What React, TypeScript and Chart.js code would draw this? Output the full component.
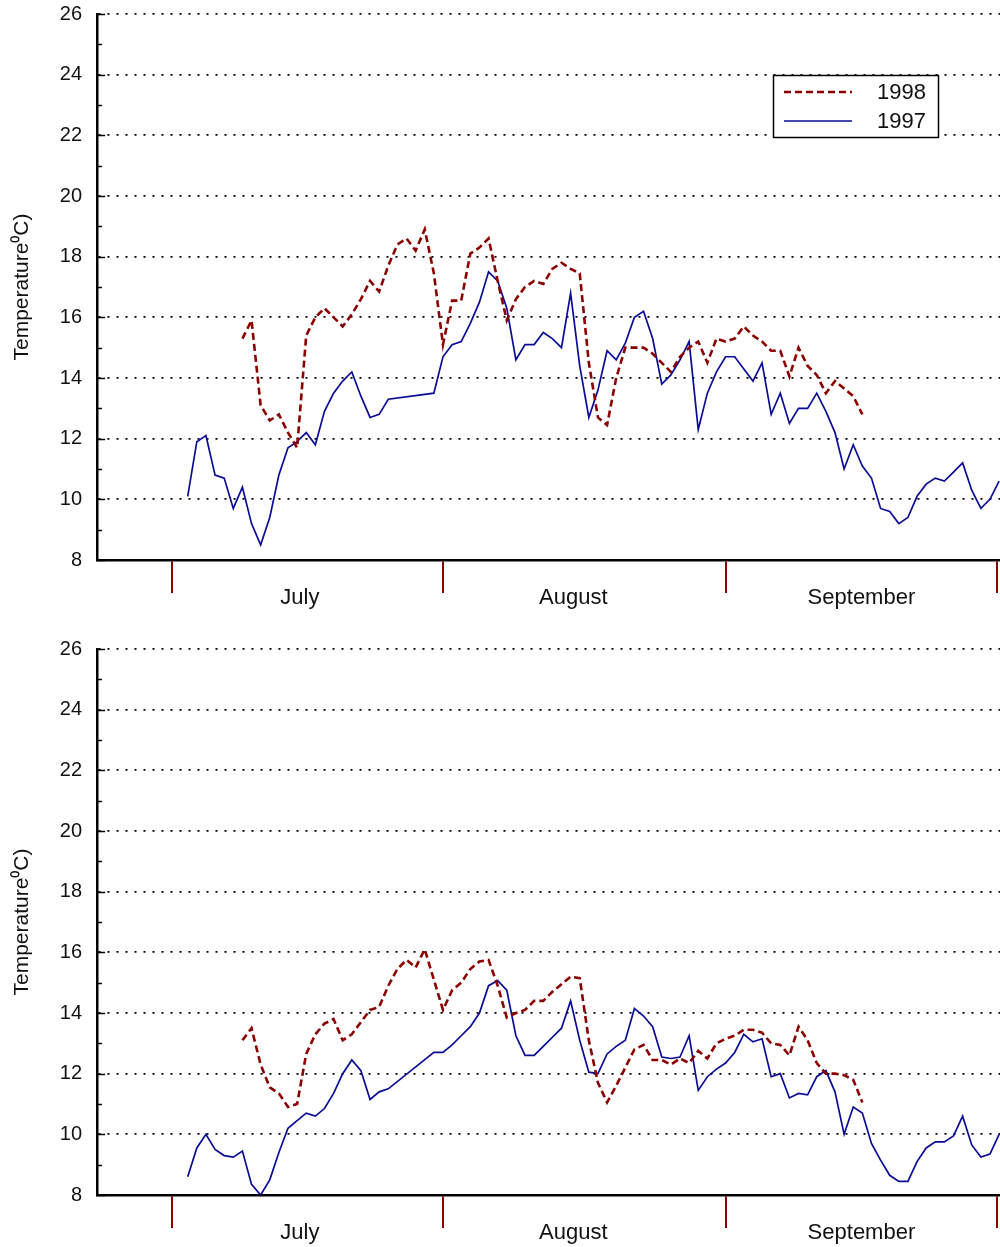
import { useEffect, useRef } from "react";
import { Chart, registerables } from "chart.js";

Chart.register(...registerables);

const FONT = "'Liberation Sans', Arial, Helvetica, sans-serif";
const RED = "#8b0000";
const BLUE = "#0b0b95";

// Day of year of the first reading in each series (1997: 4 July, 1998: 10 July)
const start1997 = 185;
const start1998 = 191;

// Upper panel, daily temperature (°C); null = no reading
const upper1997 = [
  10.1, 11.9, 12.1, 10.8, 10.7, 9.7, 10.4, 9.2, 8.5, 9.4,
  10.8, 11.7, 11.9, 12.2, 11.8, 12.9, 13.5, 13.9, 14.2, 13.4,
  12.7, 12.8, 13.3, null, null, null, null, 13.5, 14.7, 15.1,
  15.2, 15.8, 16.5, 17.5, 17.2, 16.3, 14.6, 15.1, 15.1, 15.5,
  15.3, 15.0, 16.8, 14.4, 12.7, 13.6, 14.9, 14.6, 15.15, 16.0,
  16.2, 15.3, 13.8, 14.1, 14.6, 15.2, 12.3, 13.5, 14.2, 14.7,
  14.7, 14.3, 13.9, 14.5, 12.8, 13.5, 12.5, 13.0, 13.0, 13.5,
  12.9, 12.2, 11.0, 11.8, 11.1, 10.7, 9.7, 9.6, 9.2, 9.4,
  10.1, 10.5, 10.7, 10.6, 10.9, 11.2, 10.3, 9.7, 10.0, 10.6,
];
const upper1998 = [
  15.3, 15.9, 13.1, 12.6, 12.8, 12.2, 11.7, 15.4, 16.0, 16.3,
  16.0, 15.7, 16.1, 16.6, 17.2, 16.85, 17.7, 18.4, 18.6, 18.2,
  18.9, 17.45, 15.1, 16.55, 16.55, 18.1, 18.3, 18.6, 17.2, 15.9,
  16.6, 17.0, 17.2, 17.1, 17.6, 17.8, 17.6, 17.45, 14.5, 12.7,
  12.45, 14.0, 15.0, 15.0, 15.0, 14.8, 14.5, 14.2, 14.7, 15.0,
  15.2, 14.5, 15.3, 15.2, 15.3, 15.7, 15.4, 15.2, 14.9, 14.9,
  14.05, 15.0, 14.4, 14.1, 13.5, 13.9, 13.65, 13.4, 12.8,
];

// Lower panel, daily temperature (°C); null = no reading
const lower1997 = [
  8.6, 9.55, 10.0, 9.5, 9.3, 9.25, 9.45, 8.35, 8.0, 8.5,
  9.4, 10.2, 10.45, 10.7, 10.6, 10.85, 11.35, 12.0, 12.45, 12.1,
  11.15, 11.4, 11.5, null, null, null, null, 12.7, 12.7, 12.95,
  13.25, 13.55, 14.0, 14.9, 15.07, 14.75, 13.25, 12.6, 12.6, 12.9,
  13.2, 13.5, 14.4, 13.1, 12.05, 12.0, 12.65, 12.9, 13.1, 14.15,
  13.9, 13.55, 12.55, 12.5, 12.55, 13.25, 11.45, 11.9, 12.15, 12.35,
  12.7, 13.3, 13.05, 13.15, 11.9, 12.0, 11.2, 11.35, 11.3, 11.9,
  12.1, 11.4, 10.0, 10.9, 10.7, 9.7, 9.15, 8.65, 8.45, 8.45,
  9.1, 9.55, 9.75, 9.75, 9.95, 10.6, 9.65, 9.25, 9.35, 10.0,
];
const lower1998 = [
  13.1, 13.5, 12.3, 11.55, 11.35, 10.9, 11.0, 12.65, 13.3, 13.65,
  13.8, 13.1, 13.3, 13.7, 14.1, 14.2, 14.9, 15.45, 15.75, 15.5,
  16.1, 15.1, 14.1, 14.75, 15.0, 15.45, 15.7, 15.75, 14.9, 13.85,
  14.0, 14.1, 14.4, 14.4, 14.7, 14.95, 15.2, 15.15, 13.1, 11.7,
  11.05, 11.6, 12.2, 12.8, 12.95, 12.45, 12.45, 12.3, 12.5, 12.35,
  12.75, 12.5, 13.0, 13.15, 13.25, 13.45, 13.45, 13.35, 13.0, 12.95,
  12.6, 13.55, 13.1, 12.35, 12.0, 12.0, 11.95, 11.8, 11.05,
];

// Month boundaries and month-name anchors on the day-of-year axis
const monthStarts = [183.3, 213, 244, 273.8];
const monthNames = ["July", "August", "September"];
const monthLabelDays = [197.3, 227.3, 258.9];

const X_MIN = 175.05;
const X_MAX = 274.1;
const Y_MIN = 8;
const Y_MAX = 26;
const Y_STEP = 2;
const Y_TITLE = "Temperature⁰C)";

function toPoints(start: number, values: (number | null)[]) {
  return values.map((y, i) => ({ x: start + i, y }));
}

// Inside tick marks on the left axis plus the month names under the x axis
const axisDecor = {
  id: "axisDecor",
  afterDraw(chart: any) {
    const { ctx, chartArea } = chart;
    const y = chart.scales.y;
    const x = chart.scales.x;
    ctx.save();
    ctx.strokeStyle = "#000";
    ctx.lineWidth = 1.5;
    for (let v = Y_MIN; v <= Y_MAX; v += 1) {
      const py = Math.round(y.getPixelForValue(v)) + 0.5;
      const len = v % 2 === 0 ? 8 : 5;
      ctx.beginPath();
      ctx.moveTo(chartArea.left, py);
      ctx.lineTo(chartArea.left + len, py);
      ctx.stroke();
    }
    ctx.fillStyle = "#111";
    ctx.font = `22px ${FONT}`;
    ctx.textAlign = "center";
    ctx.textBaseline = "middle";
    monthNames.forEach((name, i) => {
      ctx.fillText(name, x.getPixelForValue(monthLabelDays[i]), chartArea.bottom + 38);
    });
    ctx.restore();
  },
};

// Framed legend in the upper right of the plot
const boxLegend = {
  id: "boxLegend",
  afterDraw(chart: any) {
    const { ctx } = chart;
    const left = 773;
    const top = 75;
    const w = 165;
    const h = 62;
    ctx.save();
    ctx.fillStyle = "#fff";
    ctx.fillRect(left, top, w, h);
    ctx.strokeStyle = "#000";
    ctx.lineWidth = 1.5;
    ctx.strokeRect(left + 0.5, top + 0.5, w, h);
    chart.data.datasets.forEach((ds: any, i: number) => {
      const cy = top + 17 + i * 29;
      ctx.strokeStyle = ds.borderColor;
      ctx.lineWidth = ds.borderWidth;
      ctx.setLineDash(ds.borderDash || []);
      ctx.beginPath();
      ctx.moveTo(left + 11, cy);
      ctx.lineTo(left + 79, cy);
      ctx.stroke();
      ctx.setLineDash([]);
      ctx.fillStyle = "#111";
      ctx.font = `22px ${FONT}`;
      ctx.textAlign = "left";
      ctx.textBaseline = "middle";
      ctx.fillText(ds.label, left + 104, cy + 1);
    });
    ctx.restore();
  },
};

function Panel({
  top,
  s1997,
  s1998,
  legend,
}: {
  top: number;
  s1997: (number | null)[];
  s1998: (number | null)[];
  legend: boolean;
}) {
  const ref = useRef<HTMLCanvasElement>(null);

  useEffect(() => {
    if (!ref.current) return;
    const chart = new Chart(ref.current, {
      type: "line",
      data: {
        datasets: [
          {
            label: "1998",
            data: toPoints(start1998, s1998),
            borderColor: RED,
            borderWidth: 2.6,
            borderDash: [7, 4],
            pointRadius: 0,
            tension: 0,
            spanGaps: true,
            fill: false,
          },
          {
            label: "1997",
            data: toPoints(start1997, s1997),
            borderColor: BLUE,
            borderWidth: 1.7,
            pointRadius: 0,
            tension: 0,
            spanGaps: true,
            fill: false,
          },
        ],
      },
      options: {
        responsive: false,
        maintainAspectRatio: false,
        animation: false,
        layout: { padding: { top: 14, left: 0, right: 0, bottom: 0 } },
        plugins: {
          legend: { display: false },
          tooltip: { enabled: false },
        },
        scales: {
          x: {
            type: "linear",
            min: X_MIN,
            max: X_MAX,
            afterBuildTicks: (s: any) => {
              s.ticks = monthStarts.map((v) => ({ value: v }));
            },
            afterFit: (s: any) => {
              s.height = 52;
              s.paddingLeft = 0;
              s.paddingRight = 0;
            },
            ticks: { display: false },
            grid: {
              drawOnChartArea: false,
              drawTicks: true,
              tickLength: 33,
              tickColor: RED,
              tickWidth: 2,
              color: RED,
              lineWidth: 2,
            },
            border: { display: true, color: "#000", width: 2.5 },
          },
          y: {
            type: "linear",
            min: Y_MIN,
            max: Y_MAX,
            afterFit: (s: any) => {
              s.width = 97;
              s.paddingTop = 0;
              s.paddingBottom = 0;
            },
            ticks: {
              stepSize: Y_STEP,
              padding: 15,
              color: "#111",
              font: { family: FONT, size: 20 },
            },
            grid: { color: "#000", lineWidth: 1.7, drawTicks: false },
            border: { display: true, color: "#000", width: 2.5, dash: [2, 7] },
            title: {
              display: true,
              text: Y_TITLE,
              color: "#111",
              font: { family: FONT, size: 21 },
              padding: { top: 10, bottom: 0 },
            },
          },
        },
      } as any,
      plugins: legend ? [axisDecor, boxLegend] : [axisDecor],
    });
    return () => chart.destroy();
  }, []);

  return (
    <canvas
      ref={ref}
      width={1000}
      height={612}
      style={{ position: "absolute", left: 0, top, width: 1000, height: 612, display: "block" }}
    />
  );
}

export default function App() {
  return (
    <div
      style={{
        position: "absolute",
        left: 0,
        top: 0,
        width: 1000,
        height: 1247,
        overflow: "hidden",
        background: "#fff",
      }}
    >
      <Panel top={0} s1997={upper1997} s1998={upper1998} legend={true} />
      <Panel top={635} s1997={lower1997} s1998={lower1998} legend={false} />
    </div>
  );
}
